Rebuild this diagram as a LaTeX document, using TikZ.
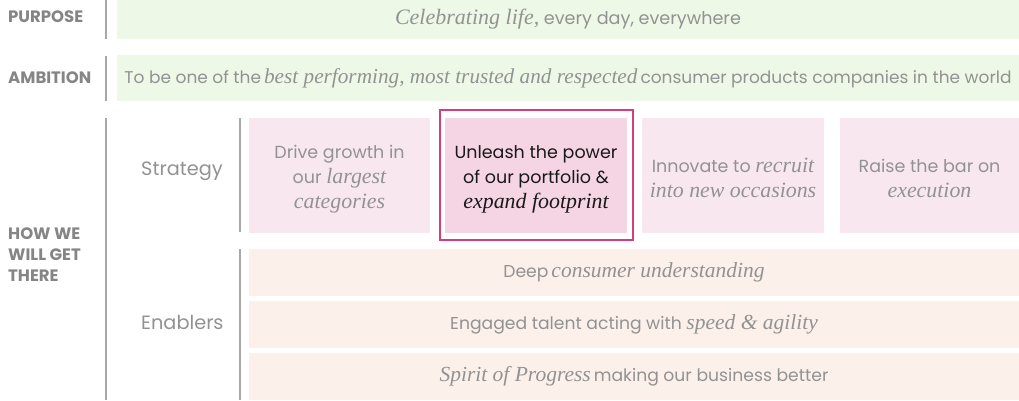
\documentclass[tikz,border=0pt]{standalone}
\usepackage{fontspec}
\setsansfont{Poppins}
\newfontfamily\garafont{Liberation Serif}[Scale=1.25]
\definecolor{greenfill}{HTML}{EEF8E6}
\definecolor{pinkfill}{HTML}{F9E7F0}
\definecolor{hifill}{HTML}{F5D5E4}
\definecolor{hiframe}{HTML}{D63C80}
\definecolor{enfill}{HTML}{FCF0EB}
\definecolor{txtgray}{HTML}{929292}
\definecolor{labgray}{HTML}{858585}
\definecolor{rulegray}{HTML}{A8A8A8}
\newcommand{\gi}[1]{{\garafont\itshape #1}}
\tikzset{
  band/.style={fill=greenfill, draw=none, inner sep=0pt, text=txtgray, font=\sffamily\fontsize{17}{20}\selectfont},
  stratbox/.style={fill=pinkfill, draw=none, inner sep=0pt, minimum height=115pt},
  strattext/.style={inner sep=0pt, text=txtgray, align=center, font=\sffamily\fontsize{17.5}{25}\selectfont},
  hibox/.style={stratbox, fill=hifill},
  hitext/.style={strattext, text=black!90},
  hiframebox/.style={draw=hiframe, line width=1.6pt, fill=none, inner sep=0pt},
  enbox/.style={fill=enfill, draw=none, inner sep=0pt, minimum width=770pt, minimum height=47pt, text=txtgray, font=\sffamily\fontsize{17.2}{20}\selectfont},
  sectlabel/.style={text=labgray, anchor=west, inner sep=0pt, align=left, font=\sffamily\bfseries\fontsize{16.5}{21}\selectfont},
  rowlabel/.style={text=txtgray, anchor=west, inner sep=0pt, font=\sffamily\fontsize{19.3}{22}\selectfont},
  sep/.style={draw=rulegray, line width=1.3pt}
}
\begin{document}
\begin{tikzpicture}[x=1pt,y=-1pt]
\useasboundingbox (0,0) rectangle (1019,400);
% bands
\node[band, minimum width=902pt, minimum height=40pt, font=\sffamily\fontsize{17.6}{20}\selectfont] (purpose) at (568,19) {\gi{Celebrating life,} every day, everywhere};
\node[band, minimum width=902pt, minimum height=46pt] (ambition) at (568,78) {To be one of the\hspace{3pt}\gi{best performing, most trusted and respected}\hspace{3pt}consumer products companies in the world};
% labels
\node[sectlabel] (lpurpose) at (8,17) {PURPOSE};
\node[sectlabel] (lambition) at (8,78) {AMBITION};
\node[sectlabel] (lhow) at (8,255) {HOW WE\\WILL GET\\THERE};
\node[rowlabel] (lstrat) at (141,171) {Strategy};
\node[rowlabel] (lenab) at (141,322) {Enablers};
% separators
\draw[sep] (106,0) -- (106,39);
\draw[sep] (106,56) -- (106,101);
\draw[sep] (106,118) -- (106,400);
\draw[sep] (240,118) -- (240,232);
\draw[sep] (240,249) -- (240,400);
% strategy
\node[stratbox, minimum width=181pt] (s1) at (339.5,175.5) {};
\node[strattext] (s1t) at ([yshift=-3.5pt]s1.center) {Drive growth in\\our \gi{largest}\\\gi{categories}};
\node[hibox, minimum width=182pt] (s2) at (536,175.5) {};
\node[hitext] (s2t) at ([yshift=-3.5pt]s2.center) {Unleash the power\\of our portfolio \&\\\gi{expand footprint}};
\node[hiframebox, minimum width=193pt, minimum height=130pt] (frame) at (536.5,175) {};
\node[stratbox, minimum width=182pt] (s3) at (733,175.5) {};
\node[strattext] (s3t) at ([yshift=-2.5pt]s3.center) {Innovate to \gi{recruit}\\\gi{into new occasions}};
\node[stratbox, minimum width=179pt] (s4) at (929.5,175.5) {};
\node[strattext] (s4t) at ([yshift=-2.5pt]s4.center) {Raise the bar on\\\gi{execution}};
% enablers
\node[enbox] (e1) at (634,272.5) {Deep\hspace{3pt}\gi{consumer understanding}};
\node[enbox] (e2) at (634,324.5) {Engaged talent acting with \gi{speed \& agility}};
\node[enbox] (e3) at (634,376.5) {\gi{Spirit of Progress}\hspace{3pt}making our business better};
\end{tikzpicture}
\end{document}
